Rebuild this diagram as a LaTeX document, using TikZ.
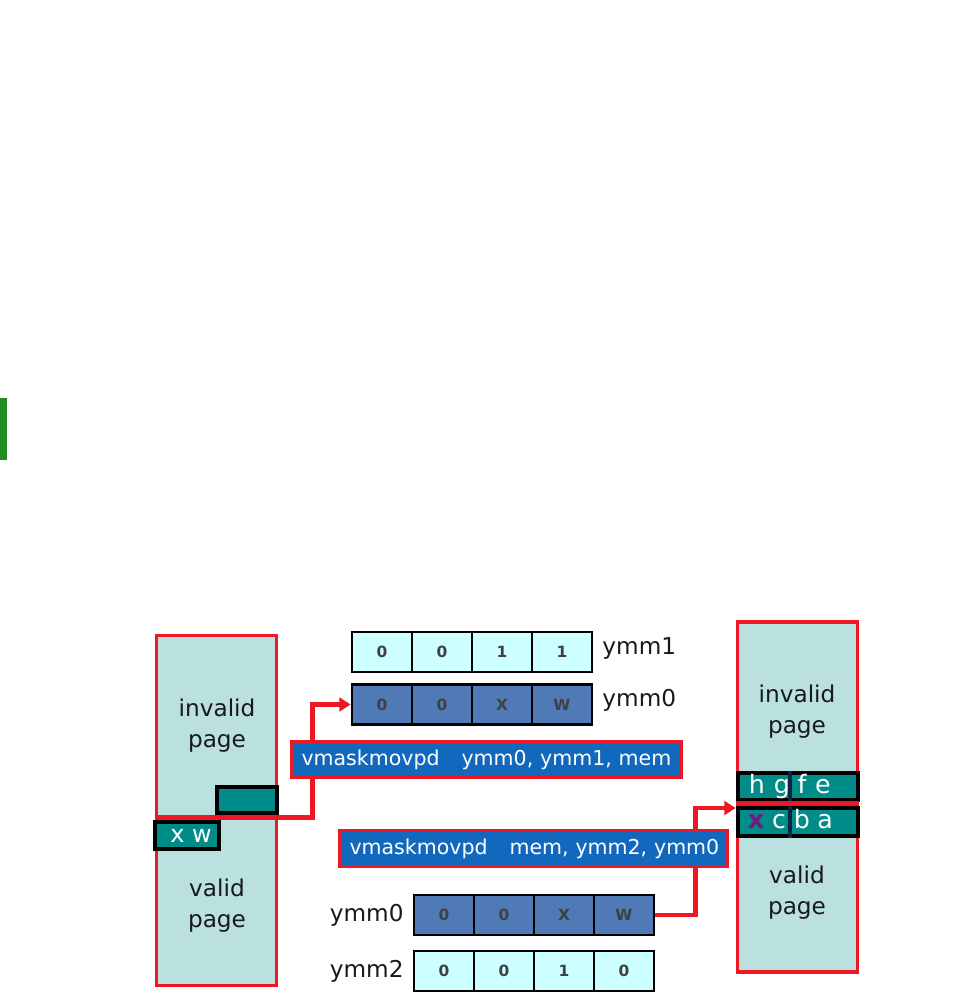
\documentclass[tikz,border=0pt]{standalone}
\usepackage{fontspec}
\setmainfont{DejaVu Sans}
\usepackage{xcolor}
\usepackage{tikz}
\usetikzlibrary{arrows.meta, positioning}

\definecolor{pageFill}{RGB}{186,224,224}
\definecolor{pageRed}{RGB}{236,24,36}
\definecolor{slotTeal}{RGB}{0,140,136}
\definecolor{regLight}{RGB}{204,255,255}
\definecolor{regDark}{RGB}{80,122,182}
\definecolor{instrBlue}{RGB}{18,104,188}
\definecolor{barGreen}{RGB}{34,139,34}
\definecolor{splitNavy}{RGB}{12,36,66}
\definecolor{maskPurple}{RGB}{112,26,128}

\begin{document}
\begin{tikzpicture}[x=0.25mm, y=-0.25mm,
            page/.style={draw=pageRed, line width=2.6pt, fill=pageFill, minimum width=30mm, minimum height=87.5mm, inner sep=0pt},
            pagetext/.style={align=center, text=black!90, font=\fontsize{16.5}{22}\selectfont},
            slot/.style={draw=black, line width=2.6pt, fill=slotTeal, inner sep=0pt, text=white},
            slottext/.style={anchor=base, text=white, inner sep=0pt, font=\fontsize{18}{20}\selectfont},
            cell/.style={draw=black, line width=2pt, minimum width=15mm, minimum height=10mm, inner sep=0pt, text=black!75, font=\fontsize{11}{12}\selectfont\bfseries},
            reglabel/.style={inner sep=0pt, text=black!90, font=\fontsize{16.5}{20}\selectfont},
            instr/.style={draw=pageRed, line width=2.6pt, fill=instrBlue, text=white, minimum height=9mm, inner xsep=2.5mm, align=left, font=\fontsize{14.6}{18}\selectfont},
            wire/.style={draw=pageRed, line width=3.4pt},
            arrow/.style={wire, -{Triangle[length=2.8mm, width=3.4mm]}}]

            \useasboundingbox (0,0) rectangle (980,1004);

            % side bar
            \fill[barGreen] (0,398) rectangle (7,460);

            % Pages
            \node (lpage) [page] at (216.5,810.5) {};
            \node (rpage) [page] at (797.5,797) {};
            \node (linvalid) [pagetext] at (217,726) {invalid\\page};
            \node (lvalid) [pagetext] at (217,906) {valid\\page};
            \node (rinvalid) [pagetext] at (797,712) {invalid\\page};
            \node (rvalid) [pagetext] at (797,893) {valid\\page};

            % Slots in memory
            \node (lslot) [slot, minimum width=15mm, minimum height=6.5mm] at (247,800) {};
            \node (lxw) [slot, minimum width=16mm, minimum height=6.75mm] at (187,835.5) {};
            \node (lxwtext) [slottext, font=\fontsize{17}{20}\selectfont] at (191,842) {x w};
            \node (rhigh) [slot, minimum width=30mm, minimum height=6.75mm] at (798,786.5) {};
            \node (rlow) [slot, minimum width=30mm, minimum height=7mm] at (798,822) {};
            \foreach \ch/\px in {h/757, g/782, f/802, e/823}
                \node (hi\ch) [slottext] at (\px,793) {\ch};
            \foreach \ch/\px in {c/779, b/802, a/825}
                \node (lo\ch) [slottext] at (\px,828) {\ch};
            \node (lox) [slottext, text=maskPurple, font=\fontsize{18}{20}\selectfont\bfseries] at (756,828) {x};
            \draw[splitNavy, line width=2.6pt] ([xshift=-2mm]rhigh.north) -- ([xshift=-2mm]rhigh.south);
            \draw[splitNavy, line width=2.6pt] ([xshift=-2mm]rlow.north) -- ([xshift=-2mm]rlow.south);
            \draw[wire] (rpage.west |- 0,803.5) -- (rpage.east |- 0,803.5);

            % Registers
            \foreach \v [count=\i] in {0,0,1,1}
                \node (ymmone\i) [cell, fill=regLight] at ({352+60*\i-30},652) {\v};
            \foreach \v [count=\i] in {0,0,X,W}
                \node (ymmzero\i) [cell, fill=regDark] at ({352+60*\i-30},704.5) {\v};
            \foreach \v [count=\i] in {0,0,X,W}
                \node (ymmzerob\i) [cell, fill=regDark] at ({414+60*\i-30},915) {\v};
            \foreach \v [count=\i] in {0,0,1,0}
                \node (ymmtwo\i) [cell, fill=regLight] at ({414+60*\i-30},971) {\v};
            \node (lblone) [reglabel, right=2.2mm of ymmone4, yshift=1mm] {ymm1};
            \node (lblzero) [reglabel, right=2.2mm of ymmzero4, yshift=1mm] {ymm0};
            \node (lblzerob) [reglabel, left=2.2mm of ymmzerob1] {ymm0};
            \node (lbltwo) [reglabel, left=2.2mm of ymmtwo1] {ymm2};

            % Arrows
            \coordinate (lcut) at (lpage.west |- 0,817.5);
            \coordinate (rcut) at (rpage.west |- 0,808);
            \draw [arrow] (lcut) -- ++(158,0) |- (ymmzero1.west);
            \draw [arrow] (ymmzerob4.east) -- ++(40,0) |- (rcut);

            % Instructions
            \node (instrA) [instr, text width=92.5mm] at (486.5,759.5) {\mbox{vmaskmovpd\hspace{5.5mm}ymm0, ymm1, mem}};
            \node (instrB) [instr, text width=92mm] at (533.5,848.5) {\mbox{vmaskmovpd\hspace{5.5mm}mem, ymm2, ymm0}};
        \end{tikzpicture}
\end{document}
